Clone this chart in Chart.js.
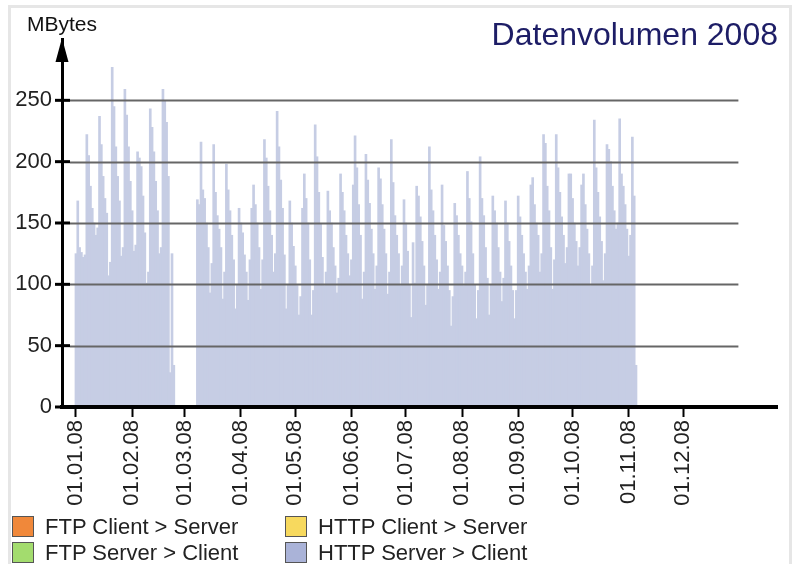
<!DOCTYPE html>
<html lang="de">
<head>
    <meta charset="UTF-8">
    <title>Datenvolumen 2008</title>
    <style>
        body {
            margin: 0;
            background-color: #fff;
            font-family: Arial, "Liberation Sans", sans-serif;
        }
        .wrap {
            position: relative;
            width: 795px;
            height: 564px;
            overflow: hidden;
        }
        .frame {
            position: absolute;
            left: 8px;
            top: 5px;
            width: 778px;
            height: 600px;
            border: 3px solid #e6e6e6;
        }
        canvas {
            position: absolute;
            left: 0;
            top: 0;
        }
        .legend {
            position: absolute;
            left: 12px;
            top: 516px;
            font-size: 22px;
            color: #222;
        }
        .legend .item {
            position: absolute;
            white-space: nowrap;
            line-height: 22px;
        }
        .legend .box {
            display: inline-block;
            width: 20px;
            height: 19px;
            border: 1px solid #555;
            vertical-align: top;
            margin-right: 11px;
        }
    </style>
    <script src="https://cdn.jsdelivr.net/npm/chart.js"></script>
</head>
<body>
    <div class="wrap">
        <div class="frame"></div>
        <canvas id="volChart" width="795" height="564"></canvas>
        <div class="legend" id="legend"></div>
    </div>

    <script>
        // tages-werte in MBytes, ab 01.01.08 (index 0 = 1. Januar)
        var httpServerClient = [
            125, 168, 130, 126, 122, 124,
            222, 205, 180, 162, 150, 140, 146,
            237, 214, 188, 170, 158, 107, 118,
            277, 245, 212, 188, 168, 123, 130,
            259, 238, 212, 184, 160, 127, 132,
            208, 203, 196, 172, 142, 101, 110,
            243, 228, 208, 184, 160, 125, 130,
            259, 250, 232, 188, 28, 125, 34,
            null, null, null, null, null, null, null, null, null, null, null, null,
            169, 165,
            216, 177, 170, 150, 130, 93, 117,
            214, 175, 156, 145, 130, 88, 110,
            198, 177, 160, 140, 120, 80, 100,
            162, 150, 142, 124, 110, 87, 120,
            162, 181, 165, 150, 130, 96, 120,
            218, 203, 180, 160, 140, 110, 125,
            241, 212, 185, 162, 124, 80, 100,
            168, 150, 131, 115, 99, 75, 90,
            162, 190, 170, 150, 120, 75, 95,
            230, 204, 175, 149, 122, 99, 110,
            176, 160, 150, 130, 115, 93, 105,
            190, 175, 160, 140, 125, 107, 120,
            181, 221, 195, 165, 140, 88, 110,
            206, 185, 166, 145, 125, 96, 115,
            195, 186, 165, 145, 125, 92, 110,
            218, 183, 156, 140, 125, 99, 115,
            169, 150, 127, 100, 73, 134, 101,
            180, 172, 155, 135, 115, 83, 100,
            212, 177, 160, 140, 120, 96, 110,
            181, 148, 135, 115, 95, 66, 90,
            166, 156, 140, 125, 115, 99, 110,
            192, 170, 151, 125, 100, 72, 95,
            204, 170, 156, 130, 105, 75, 100,
            172, 160, 150, 130, 110, 86, 105,
            168, 150, 135, 115, 95, 72, 95,
            172, 155, 140, 125, 110, 96, 115,
            181, 187, 165, 150, 140, 110, 125,
            222, 215, 180, 160, 130, 96, 120,
            222, 195, 175, 155, 140, 117, 130,
            190, 190, 170, 150, 135, 115, 130,
            181, 190, 165, 145, 125, 99, 115,
            234, 195, 175, 155, 135, 103, 125,
            214, 210, 200, 180, 160, 145, 150,
            235, 190, 180, 165, 145, 123, 140,
            220, 172, 34
        ];
        // die anderen reihen sind im bild praktisch null
        var ftpClientServer = [];
        var ftpServerClient = [];
        var httpClientServer = [];

        var seriesNames = ['FTP Client > Server', 'FTP Server > Client', 'HTTP Client > Server', 'HTTP Server > Client'];
        var seriesColors = ['#f0883a', '#a3dc6e', '#f7d95e', '#aab3d8'];

        var monthTicks = [0, 31, 60, 91, 121, 152, 182, 213, 244, 274, 305, 335];
        var monthLabels = ['01.01.08', '01.02.08', '01.03.08', '01.04.08', '01.05.08', '01.06.08',
                           '01.07.08', '01.08.08', '01.09.08', '01.10.08', '01.11.08', '01.12.08'];
        var yTicks = [0, 50, 100, 150, 200, 250];
        var daysInYear = 366;

        var fontFamily = 'Arial, "Liberation Sans", sans-serif';

        function toPoints(arr) {
            return arr.map(function (v, i) { return { x: i, y: v }; });
        }

        var extras = {
            id: 'extras',
            afterDatasetsDraw: function (chart) {
                var ctx = chart.ctx;
                var xs = chart.scales.x, ys = chart.scales.y;
                var area = chart.chartArea;
                ctx.save();
                // horizontale linien
                ctx.strokeStyle = '#666';
                ctx.lineWidth = 2;
                yTicks.forEach(function (v) {
                    if (v === 0) return;
                    var y = Math.round(ys.getPixelForValue(v)) + 0.5;
                    ctx.beginPath();
                    ctx.moveTo(area.left + 8, y);
                    ctx.lineTo(xs.getPixelForValue(daysInYear - 0.5), y);
                    ctx.stroke();
                });
                // x-achse nochmal über die balken
                ctx.strokeStyle = '#000';
                ctx.lineWidth = 4;
                ctx.beginPath();
                ctx.moveTo(area.left, area.bottom);
                ctx.lineTo(area.right, area.bottom);
                ctx.stroke();
                ctx.restore();
            },
            afterDraw: function (chart) {
                var ctx = chart.ctx;
                var ys = chart.scales.y;
                var area = chart.chartArea;
                ctx.save();
                // ticks an der y-achse
                ctx.strokeStyle = '#000';
                ctx.lineWidth = 3;
                yTicks.forEach(function (v) {
                    var y = ys.getPixelForValue(v);
                    ctx.beginPath();
                    ctx.moveTo(area.left - 7, y);
                    ctx.lineTo(area.left + 8, y);
                    ctx.stroke();
                });
                // pfeil oben
                ctx.fillStyle = '#000';
                ctx.beginPath();
                ctx.moveTo(area.left, area.top - 1);
                ctx.lineTo(area.left - 6.5, area.top + 23);
                ctx.lineTo(area.left + 6.5, area.top + 23);
                ctx.closePath();
                ctx.fill();

                ctx.fillStyle = '#111';
                ctx.font = '21px ' + fontFamily;
                ctx.textAlign = 'left';
                ctx.textBaseline = 'alphabetic';
                ctx.fillText('MBytes', 27, 31);

                ctx.fillStyle = '#1d1d66';
                ctx.font = '32px ' + fontFamily;
                ctx.textAlign = 'right';
                ctx.fillText('Datenvolumen 2008', 778, 45);
                ctx.restore();
            }
        };

        function buildLegend() {
            var box = document.getElementById('legend');
            var pos = [[0, 0], [0, 26], [273, 0], [273, 26]];
            seriesNames.forEach(function (name, i) {
                var el = document.createElement('div');
                el.className = 'item';
                el.style.left = pos[i][0] + 'px';
                el.style.top = pos[i][1] + 'px';
                el.innerHTML = '<span class="box" style="background:' + seriesColors[i] + '"></span>';
                el.appendChild(document.createTextNode(name));
                box.appendChild(el);
            });
        }

        function drawChart() {
            var ctx = document.getElementById('volChart').getContext('2d');
            var all = [ftpClientServer, ftpServerClient, httpClientServer, httpServerClient];
            var datasets = all.map(function (arr, i) {
                return {
                    label: seriesNames[i],
                    data: toPoints(arr),
                    backgroundColor: i === 3 ? '#c6cde4' : seriesColors[i],
                    borderWidth: 0,
                    barThickness: 2
                };
            });

            new Chart(ctx, {
                type: 'bar',
                data: { datasets: datasets },
                options: {
                    responsive: false,
                    animation: false,
                    devicePixelRatio: 1,
                    layout: { padding: { left: 0, top: 39, right: 18, bottom: 54 } },
                    plugins: {
                        legend: { display: false },
                        tooltip: { enabled: false }
                    },
                    scales: {
                        x: {
                            type: 'linear',
                            stacked: true,
                            offset: false,
                            min: -7.7,
                            max: 386.8,
                            afterBuildTicks: function (s) {
                                s.ticks = monthTicks.map(function (v) { return { value: v }; });
                            },
                            afterFit: function (s) { s.height = 103; },
                            ticks: {
                                autoSkip: false,
                                maxRotation: 90,
                                minRotation: 90,
                                padding: 3,
                                color: '#222',
                                font: { size: 22, family: fontFamily },
                                callback: function (v, idx) { return monthLabels[idx]; }
                            },
                            grid: {
                                display: true,
                                offset: false,
                                drawOnChartArea: false,
                                drawTicks: true,
                                tickLength: 10,
                                tickWidth: 2,
                                tickColor: '#000'
                            },
                            border: { display: true, width: 4, color: '#000' }
                        },
                        y: {
                            stacked: true,
                            min: 0,
                            max: 300,
                            afterBuildTicks: function (s) {
                                s.ticks = yTicks.map(function (v) { return { value: v }; });
                            },
                            afterFit: function (s) { s.width = 62; },
                            ticks: {
                                padding: 10,
                                color: '#222',
                                font: { size: 22, family: fontFamily }
                            },
                            grid: { display: false, drawTicks: false },
                            border: { display: true, width: 3, color: '#000' }
                        }
                    }
                },
                plugins: [extras]
            });
        }

        document.addEventListener('DOMContentLoaded', function () {
            buildLegend();
            drawChart();
        });
    </script>
</body>
</html>
